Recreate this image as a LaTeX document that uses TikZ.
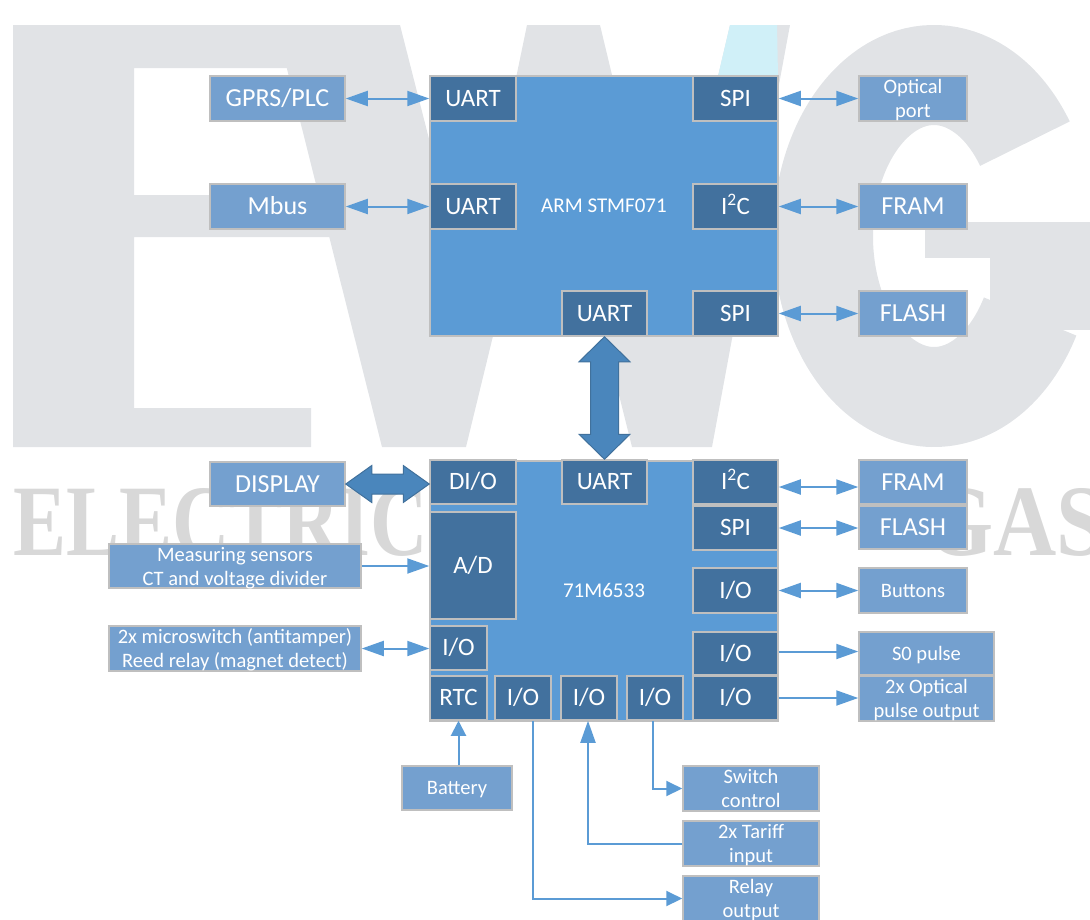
\documentclass[tikz,border=0pt]{standalone}
\usepackage{fontspec}
\setmainfont{Carlito}
\newfontfamily\wmserif{Liberation Serif}
\usetikzlibrary{arrows.meta,calc}
\definecolor{chip}{RGB}{91,155,213}
\definecolor{blk}{RGB}{66,113,158}
\definecolor{ext}{RGB}{116,160,207}
\definecolor{edge}{RGB}{191,191,191}
\definecolor{arr}{RGB}{91,155,213}
\definecolor{fatfill}{RGB}{74,134,188}
\definecolor{fatedge}{RGB}{65,113,156}
\definecolor{wm}{RGB}{225,227,230}
\definecolor{wmcyan}{RGB}{208,240,248}
\definecolor{wmtext}{RGB}{216,216,216}
\begin{document}
\begin{tikzpicture}[x=1pt,y=-1pt,
  base/.style={draw=edge,line width=1.5pt,inner sep=0pt,text=white,text depth=0pt},
  chipbox/.style={base,fill=chip,font=\fontsize{21}{25}\selectfont,text height=13.3pt},
  blkbox/.style={base,fill=blk,font=\fontsize{25}{30}\selectfont,text height=15.8pt},
  extbox/.style={base,fill=ext,font=\fontsize{26}{30}\selectfont,text height=16.4pt},
  extsm/.style={base,fill=ext,font=\fontsize{20.5}{24}\selectfont,text height=13pt},
  lbls/.style={inner sep=0pt,text=white,text height=13pt,text depth=0pt,font=\fontsize{20.5}{24}\selectfont},
  conn/.style={draw=arr,line width=2pt},
  dbl/.style={conn,{Triangle[length=22pt,width=15pt]}-{Triangle[length=22pt,width=15pt]}},
  sgl/.style={conn,-{Triangle[length=22pt,width=15pt]}},
  sgls/.style={conn,-{Triangle[length=16pt,width=15pt]}},
  fat/.style={fill=fatfill,draw=fatedge,line width=1pt,line join=miter},
  wmk/.style={inner sep=0pt,anchor=north west}
]
\useasboundingbox (0,0) rectangle (1090,919);
\clip (0,0) rectangle (1090,919);
% ---------------- watermark
\fill[wm] (13,25) -- (300,25) -- (300,68) -- (134,68) -- (134,195) -- (330,195) -- (330,237) -- (134,237) -- (134,408) -- (311,408) -- (311,447) -- (13,447) -- cycle;
\fill[wm] (276,25) -- (400,25) -- (470,300) -- (527,25) -- (600,25) -- (666,300) -- (730,25) -- (790,25) -- (712,447) -- (632,447) -- (548,110) -- (466,447) -- (382,447) -- cycle;
\draw[wm,line width=100pt] (934,236) ++(325:111 and 161) arc[start angle=325,end angle=30,x radius=111,y radius=161];
\fill[wm] (925,222) rectangle (1090,258);
\fill[wm] (990,222) rectangle (1090,330);
\fill[wmcyan] (730,25) -- (777,25) -- (778,76) -- (718,76) -- cycle;
\node[wmk,text=wmtext] (wmEl) at (13,488) {\resizebox{415pt}{67pt}{\wmserif\bfseries ELECTRIC}};
\node[wmk,text=wmtext] (wmGas) at (925,488) {\resizebox{180pt}{67pt}{\wmserif\bfseries GAS}};
% ---------------- ARM chip
\node[chipbox,minimum width=348pt,minimum height=260pt] (arm) at (604,206) {ARM STMF071};
\node[blkbox,minimum width=86pt,minimum height=45pt] (u1) at (473,98.5) {UART};
\node[blkbox,minimum width=86pt,minimum height=45pt] (u2) at (473,206.5) {UART};
\node[blkbox,minimum width=85pt,minimum height=45pt] (spi1) at (735.5,98.5) {SPI};
\node[blkbox,minimum width=85pt,minimum height=45pt] (i2c1) at (735.5,206.5) {I\textsuperscript{2}C};
\node[blkbox,minimum width=85pt,minimum height=45pt] (spi2) at (735.5,313.5) {SPI};
\node[blkbox,minimum width=85pt,minimum height=45pt] (u3) at (604.5,313.5) {UART};
% external top
\node[extbox,minimum width=135pt,minimum height=45pt] (gprs) at (277.5,98.5) {GPRS/PLC};
\node[extbox,minimum width=135pt,minimum height=45pt] (mbus) at (277.5,206.5) {Mbus};
\node[extsm,minimum width=108pt,minimum height=45pt] (optp) at (913,98.5) {};
\node[lbls,yshift=11.5pt] (optp-a) at (optp) {Optical};
\node[lbls,yshift=-12.5pt] (optp-b) at (optp) {port};
\node[extbox,minimum width=108pt,minimum height=45pt] (fram1) at (913,206.5) {FRAM};
\node[extbox,minimum width=108pt,minimum height=45pt] (flash1) at (913,313.5) {FLASH};
% ---------------- 71M6533 chip
\node[chipbox,minimum width=348pt,minimum height=260pt] (mc) at (604,591) {71M6533};
\node[blkbox,minimum width=85pt,minimum height=44pt] (u4) at (604.5,482) {UART};
\node[blkbox,minimum width=86pt,minimum height=44pt] (dio) at (473,482) {DI/O};
\node[blkbox,minimum width=86pt,minimum height=107pt] (ad) at (473,565.5) {A/D};
\node[blkbox,minimum width=57pt,minimum height=44pt] (iol) at (458.5,648) {I/O};
\node[blkbox,minimum width=57pt,minimum height=44pt] (rtc) at (458.5,698) {RTC};
\node[blkbox,minimum width=56pt,minimum height=44pt] (iob1) at (523,698) {I/O};
\node[blkbox,minimum width=56pt,minimum height=44pt] (iob2) at (589,698) {I/O};
\node[blkbox,minimum width=56pt,minimum height=44pt] (iob3) at (655,698) {I/O};
\node[blkbox,minimum width=85pt,minimum height=44pt] (i2c2) at (735.5,482) {I\textsuperscript{2}C};
\node[blkbox,minimum width=85pt,minimum height=44pt] (spi3) at (735.5,528) {SPI};
\node[blkbox,minimum width=85pt,minimum height=45pt] (iobtn) at (735.5,590.5) {I/O};
\node[blkbox,minimum width=85pt,minimum height=43pt] (ios0) at (735.5,653.5) {I/O};
\node[blkbox,minimum width=85pt,minimum height=44pt] (ioopt) at (735.5,698) {I/O};
% external bottom
\node[extbox,minimum width=135pt,minimum height=44pt] (disp) at (277.5,484) {DISPLAY};
\node[extsm,minimum width=252pt,minimum height=44pt] (meas) at (235,566) {};
\node[lbls,yshift=11pt] (meas-a) at (meas) {Measuring sensors};
\node[lbls,yshift=-13pt] (meas-b) at (meas) {CT and voltage divider};
\node[extsm,minimum width=252pt,minimum height=45pt] (micro) at (235,648.5) {};
\node[lbls,yshift=11.5pt] (micro-a) at (micro) {2x microswitch (antitamper)};
\node[lbls,yshift=-12.5pt] (micro-b) at (micro) {Reed relay (magnet detect)};
\node[extsm,minimum width=110pt,minimum height=44pt] (bat) at (457,788) {Battery};
\node[extbox,minimum width=108pt,minimum height=44pt] (fram2) at (913,482) {FRAM};
\node[extbox,minimum width=108pt,minimum height=43pt] (flash2) at (913,527.5) {FLASH};
\node[extsm,minimum width=108pt,minimum height=45pt] (btn) at (913,590.5) {Buttons};
\node[extsm,minimum width=135pt,minimum height=43pt] (s0) at (926.5,653.5) {S0 pulse};
\node[extsm,minimum width=135pt,minimum height=45pt] (optpo) at (926.5,698.5) {};
\node[lbls,yshift=11.5pt] (optpo-a) at (optpo) {2x Optical};
\node[lbls,yshift=-12.5pt] (optpo-b) at (optpo) {pulse output};
\node[extsm,minimum width=136pt,minimum height=45pt] (sw) at (751,788.5) {};
\node[lbls,yshift=11.5pt] (sw-a) at (sw) {Switch};
\node[lbls,yshift=-12.5pt] (sw-b) at (sw) {control};
\node[extsm,minimum width=136pt,minimum height=45pt] (tar) at (751,843.5) {};
\node[lbls,yshift=11.5pt] (tar-a) at (tar) {2x Tariff};
\node[lbls,yshift=-12.5pt] (tar-b) at (tar) {input};
\node[extsm,minimum width=136pt,minimum height=45pt] (rel) at (751,898.5) {};
\node[lbls,yshift=11.5pt] (rel-a) at (rel) {Relay};
\node[lbls,yshift=-12.5pt] (rel-b) at (rel) {output};
% ---------------- connectors
\draw[dbl] (gprs.east) -- (u1.west);
\draw[dbl] (mbus.east) -- (u2.west);
\draw[dbl] (spi1.east) -- (optp.west);
\draw[dbl] (i2c1.east) -- (fram1.west);
\draw[dbl] (spi2.east) -- (flash1.west);
\draw[dbl] ([yshift=-5pt]i2c2.east) -- ([yshift=-5pt]i2c2.east -| fram2.west);
\draw[dbl] (spi3.east) -- (spi3.east -| flash2.west);
\draw[dbl] (iobtn.east) -- (iobtn.east -| btn.west);
\draw[sgl] ([yshift=2pt]ios0.east) -- ([yshift=2pt]ios0.east -| s0.west);
\draw[sgl] (ioopt.east) -- (ioopt.east -| optpo.west);
\draw[sgl] (meas.east) -- (meas.east -| ad.west);
\draw[dbl] (micro.east) -- (micro.east -| iol.west);
\draw[conn,-{Triangle[length=15pt,width=15pt]}] (rtc.south |- bat.north) -- (rtc.south);
\draw[sgls] ([xshift=10pt]iob1.south) |- (rel.west);
\draw[sgl] (tar.west) -| ([xshift=-1pt]iob2.south);
\draw[sgls] ([xshift=-2pt]iob3.south) |- (sw.west);
% fat arrows
\coordinate (dR) at (disp.east -| dio.west);
\path[fat] (disp.east) -- ($(disp.east)+(26,-18.5)$) -- ($(disp.east)+(26,-10)$) -- ($(dR)+(-26,-10)$) -- ($(dR)+(-26,-18.5)$) -- (dR) -- ($(dR)+(-26,18.5)$) -- ($(dR)+(-26,10)$) -- ($(disp.east)+(26,10)$) -- ($(disp.east)+(26,18.5)$) -- cycle;
\coordinate (vB) at (u4.north);
\path[fat] (u3.south) -- ($(u3.south)+(25.5,25)$) -- ($(u3.south)+(14,25)$) -- ($(vB)+(14,-25)$) -- ($(vB)+(25.5,-25)$) -- (vB) -- ($(vB)+(-25.5,-25)$) -- ($(vB)+(-14,-25)$) -- ($(u3.south)+(-14,25)$) -- ($(u3.south)+(-25.5,25)$) -- cycle;
\end{tikzpicture}
\end{document}
